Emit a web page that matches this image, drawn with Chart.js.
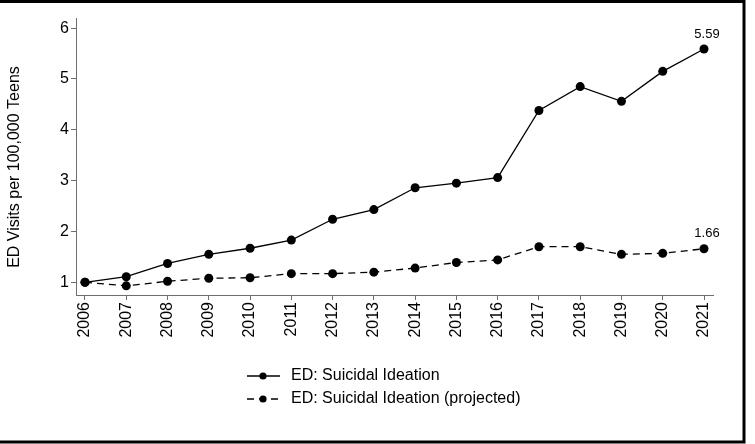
<!DOCTYPE html>
<html>
<head>
<meta charset="utf-8">
<script src="https://cdn.jsdelivr.net/npm/chart.js@4"></script>
<style>
  html, body { margin: 0; padding: 0; background: #fff; }
  #wrap { width: 755px; height: 444px; position: relative; }
</style>
</head>
<body>
<div id="wrap"><canvas id="c" width="755" height="444"></canvas></div>
<script>
// Emergency-department visits for suicidal ideation, per 100,000 teens
const years = [2006, 2007, 2008, 2009, 2010, 2011, 2012, 2013, 2014, 2015, 2016, 2017, 2018, 2019, 2020, 2021];
const ideation  = [1.00, 1.11, 1.37, 1.55, 1.67, 1.83, 2.24, 2.43, 2.86, 2.95, 3.06, 4.38, 4.85, 4.56, 5.15, 5.59];
const projected = [1.00, 0.93, 1.02, 1.08, 1.09, 1.17, 1.17, 1.20, 1.28, 1.39, 1.44, 1.70, 1.70, 1.55, 1.57, 1.66];
const yTicks = [1, 2, 3, 4, 5, 6];
const seriesNames = ['ED: Suicidal Ideation', 'ED: Suicidal Ideation (projected)'];
const yTitle = 'ED Visits per 100,000 Teens';

const FONT = '"Liberation Sans", Arial, Helvetica, sans-serif';
const AXIS_GRAY = '#6e6e6e';

function toPoints(vals) {
  return vals.map((v, i) => ({ x: years[i], y: v }));
}

// Axis title, end-of-line value labels, legend and outer frame
const decorations = {
  id: 'decorations',
  afterDraw(chart) {
    const ctx = chart.ctx;
    ctx.save();
    ctx.fillStyle = '#000';

    // y-axis title
    ctx.save();
    ctx.translate(15, 167);
    ctx.rotate(-Math.PI / 2);
    ctx.font = '16px ' + FONT;
    ctx.textAlign = 'center';
    ctx.textBaseline = 'middle';
    ctx.fillText(yTitle, 0, 0);
    ctx.restore();

    // value labels on the last point of each series
    ctx.font = '13px ' + FONT;
    ctx.textAlign = 'center';
    ctx.textBaseline = 'middle';
    chart.data.datasets.forEach((ds, i) => {
      const meta = chart.getDatasetMeta(i);
      const last = meta.data[meta.data.length - 1];
      const val = ds.data[ds.data.length - 1].y;
      ctx.fillText(val.toFixed(2), last.x + 3, last.y - 15);
    });

    // legend: line sample with marker, then the series name
    const rows = [376, 399];
    chart.data.datasets.forEach((ds, i) => {
      const y = rows[i];
      ctx.save();
      ctx.strokeStyle = ds.borderColor;
      ctx.lineWidth = ds.borderWidth;
      ctx.setLineDash(ds.borderDash || []);
      ctx.beginPath();
      ctx.moveTo(247, y);
      ctx.lineTo(280, y);
      ctx.stroke();
      ctx.restore();
      ctx.beginPath();
      ctx.arc(263, y, 3.6, 0, Math.PI * 2);
      ctx.fillStyle = ds.pointBackgroundColor;
      ctx.fill();
      ctx.fillStyle = '#000';
      ctx.font = '16px ' + FONT;
      ctx.textAlign = 'left';
      ctx.textBaseline = 'middle';
      ctx.fillText(ds.label, 291, y);
    });

    // outer frame
    ctx.strokeStyle = '#000';
    ctx.lineWidth = 3;
    ctx.strokeRect(-5, 1.5, 749, 440.5);
    ctx.restore();
  }
};

new Chart(document.getElementById('c'), {
  type: 'line',
  data: {
    datasets: [
      {
        label: seriesNames[0],
        data: toPoints(ideation),
        borderColor: '#000',
        borderWidth: 1.3,
        pointRadius: 4.5,
        pointBorderWidth: 0,
        pointBackgroundColor: '#000',
        tension: 0
      },
      {
        label: seriesNames[1],
        data: toPoints(projected),
        borderColor: '#000',
        borderWidth: 1.3,
        borderDash: [7, 5],
        pointRadius: 4.5,
        pointBorderWidth: 0,
        pointBackgroundColor: '#000',
        tension: 0
      }
    ]
  },
  options: {
    responsive: false,
    animation: false,
    devicePixelRatio: 1,
    layout: { padding: { top: 18, right: 42, left: 0, bottom: 0 } },
    plugins: {
      legend: { display: false },
      tooltip: { enabled: false }
    },
    scales: {
      x: {
        type: 'linear',
        min: 2005.782,
        max: 2021.218,
        afterBuildTicks(scale) { scale.ticks = years.map(v => ({ value: v })); },
        afterFit(scale) { scale.height = 149; },
        ticks: {
          autoSkip: false,
          minRotation: 90,
          maxRotation: 90,
          padding: 2,
          color: '#000',
          font: { family: FONT, size: 16 },
          callback: v => String(v)
        },
        grid: { display: true, drawOnChartArea: false, drawTicks: true, tickLength: 5, color: AXIS_GRAY },
        border: { display: true, color: AXIS_GRAY, width: 1 }
      },
      y: {
        type: 'linear',
        min: 0.75,
        max: 6.2,
        afterBuildTicks(scale) { scale.ticks = yTicks.map(v => ({ value: v })); },
        afterFit(scale) { scale.width = 76; },
        ticks: {
          padding: 2,
          color: '#000',
          font: { family: FONT, size: 16 },
          callback: v => String(v)
        },
        grid: { display: true, drawOnChartArea: false, drawTicks: true, tickLength: 5, color: AXIS_GRAY },
        border: { display: true, color: AXIS_GRAY, width: 1 }
      }
    }
  },
  plugins: [decorations]
});
</script>
</body>
</html>
